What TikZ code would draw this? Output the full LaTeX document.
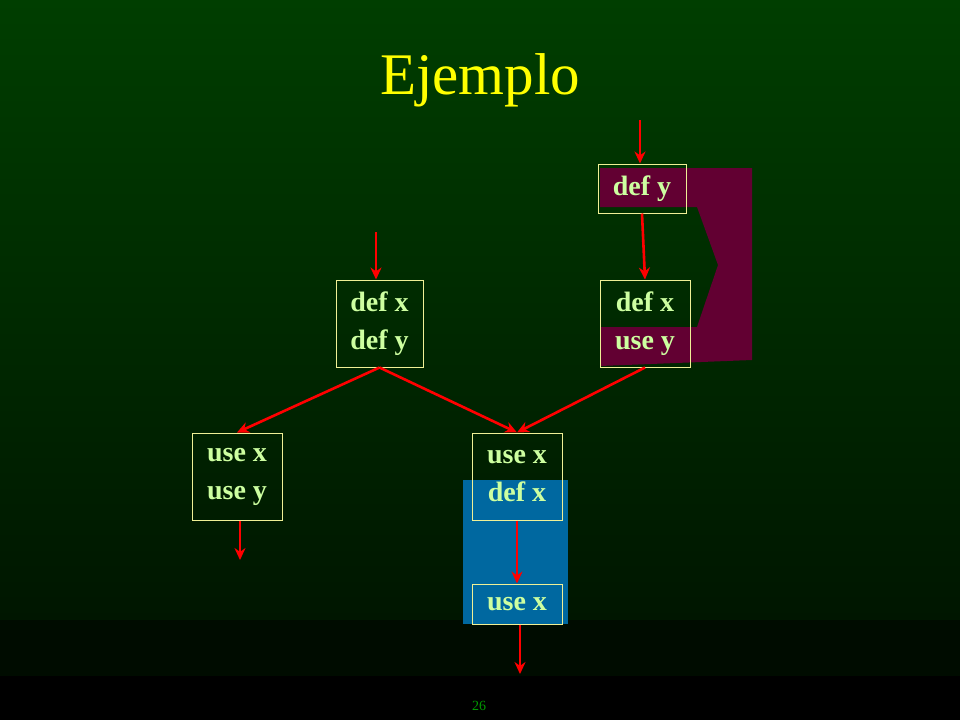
\documentclass[tikz,border=0pt]{standalone}
\usepackage{fontspec}
\setmainfont{Liberation Serif}
\usetikzlibrary{arrows.meta}
\definecolor{cbgtop}{RGB}{0,62,0}
\definecolor{cbgbot}{RGB}{0,22,0}
\definecolor{cband}{RGB}{0,12,0}
\definecolor{cmaroon}{RGB}{98,0,50}
\definecolor{cblue}{RGB}{0,104,160}
\definecolor{cframe}{RGB}{240,240,150}
\definecolor{ctext}{RGB}{205,255,160}
\definecolor{ctitle}{RGB}{255,255,0}
\tikzset{
  blk/.style={draw=cframe, line width=1pt, text=ctext, font=\fontsize{28}{38}\selectfont\bfseries,
    align=center, inner sep=0pt},
  flow/.style={draw=red, line width=2.6pt, -{Stealth[length=12pt,width=11pt]}}
}
\begin{document}
\begin{tikzpicture}[x=1pt, y=-1pt]
\useasboundingbox (0,0) rectangle (960,720);
\shade[top color=cbgtop, bottom color=cbgbot] (0,0) rectangle (960,620);
\fill[cband] (0,620) rectangle (960,676);
\fill[black] (0,676) rectangle (960,720);
% highlighted regions
\fill[cmaroon] (600,168) -- (752,168) -- (752,360) -- (600,366) -- (600,327) -- (697,327)
  -- (718,265) -- (697,207) -- (600,207) -- cycle;
\fill[cblue] (463,480) rectangle (568,624);
\node[text=ctitle, font=\fontsize{59}{66}\selectfont] (title) at (480,80) {Ejemplo};
% blocks
\node[blk, minimum width=88pt, minimum height=49pt] (defy) at (642,188.5) {def y};
\node[blk, minimum width=87pt, minimum height=87pt] (dxdy) at (379.5,323.5) {def x\\def y};
\node[blk, minimum width=90pt, minimum height=87pt] (dxuy) at (645,323.5) {def x\\use y};
\node[blk, minimum width=90pt, minimum height=87pt] (uxuy) at (237,476.5) {use x\\use y};
\node[blk, minimum width=90pt, minimum height=87pt] (uxdx) at (517,476.5) {use x\\def x};
\node[blk, minimum width=90pt, minimum height=40pt] (ux) at (517,604) {use x};
\coordinate (in1) at (640,120);
\coordinate (in2) at (376,232);
\coordinate (out1) at (240,560);
\coordinate (out2) at (520,674);
\draw[flow] (in1) -- (in1 |- defy.north);
\draw[flow] (in2) -- (in2 |- dxdy.north);
\draw[flow] (defy.south) -- (dxuy.north);
\draw[flow] (dxdy.south) -- (uxuy.north);
\draw[flow] (dxdy.south) -- (uxdx.north);
\draw[flow] (dxuy.south) -- (uxdx.north);
\draw[flow] (out1 |- uxuy.south) -- (out1);
\draw[flow] (uxdx.south) -- (ux.north);
\draw[flow] (out2 |- ux.south) -- (out2);
\node[text=green!60!black, font=\fontsize{14}{16}\selectfont] (pg) at (479,706) {26};
\end{tikzpicture}
\end{document}
